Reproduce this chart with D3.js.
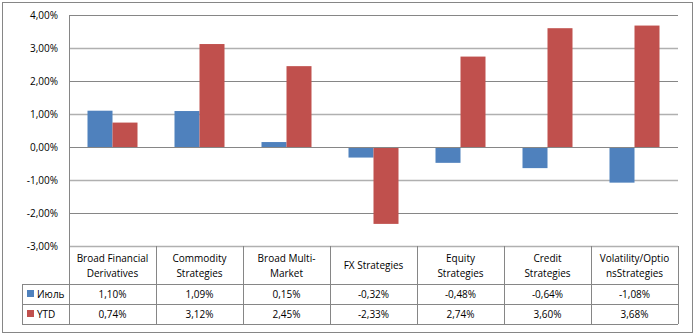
<!DOCTYPE html>
<html>
<head>
<meta charset="utf-8">
<script src="https://cdn.jsdelivr.net/npm/d3@7"></script>
<style>
  body { margin: 0; background: #fff; }
  svg text { font-family: "Open Sans", "Liberation Sans", sans-serif; font-size: 10px; fill: #000; }
</style>
</head>
<body>
<div id="chart"></div>
<script>
// data
const categories = ["Broad Financial Derivatives", "Commodity Strategies", "Broad Multi-Market",
  "FX Strategies", "Equity Strategies", "Credit Strategies", "Volatility/OptionsStrategies"];
const headerLines = [["Broad Financial", "Derivatives"], ["Commodity", "Strategies"], ["Broad Multi-", "Market"],
  ["FX Strategies"], ["Equity", "Strategies"], ["Credit", "Strategies"], ["Volatility/Optio", "nsStrategies"]];
const seriesNames = ["Июль", "YTD"];
const july = [1.10, 1.09, 0.15, -0.32, -0.48, -0.64, -1.08];
const ytd = [0.74, 3.12, 2.45, -2.33, 2.74, 3.60, 3.68];
const yTicks = [-3, -2, -1, 0, 1, 2, 3, 4];
const colors = ["#4f81bd", "#c0504d"];

const w = 695, h = 335;
const plot = {left: 69, right: 678, top: 15, bottom: 246};
const tableRows = [246, 284, 304, 324];
const legendLeft = 22;

// comma decimal, plain hyphen for negatives
const loc = d3.formatLocale({decimal: ",", thousands: " ", grouping: [3], currency: ["", ""], minus: "-"});
const fmt = v => loc.format(".2f")(v) + "%";

const svg = d3.select("#chart").append("svg")
    .attr("width", w)
    .attr("height", h);

// outer frame
svg.append("rect")
    .attr("x", 2.5).attr("y", 2.5)
    .attr("width", 690).attr("height", 330)
    .attr("fill", "#fff")
    .attr("stroke", "#868686");

const x = d3.scaleBand()
    .domain(categories)
    .range([plot.left, plot.right]);

const y = d3.scaleLinear()
    .domain([-3, 4])
    .range([plot.bottom, plot.top]);

const barW = 25;
const xs = d3.scaleBand()
    .domain(seriesNames)
    .range([x.bandwidth() / 2 - barW, x.bandwidth() / 2 + barW]);

// gridlines
svg.append("g")
  .selectAll("line")
  .data(yTicks)
  .join("line")
    .attr("x1", plot.left).attr("x2", plot.right)
    .attr("y1", d => Math.round(y(d)) + 0.5)
    .attr("y2", d => Math.round(y(d)) + 0.5)
    .attr("stroke", d => (d % 2 === 0) ? "#868686" : "#b0b0b0")
    .attr("stroke-width", d => (d % 2 === 0) ? 1 : 1.5);

// y tick labels
const yAxis = d3.axisLeft(y).tickValues(yTicks).tickFormat(fmt).tickSize(0).tickPadding(11);
const ya = svg.append("g")
    .attr("transform", `translate(${plot.left},0)`)
    .call(yAxis);
ya.select(".domain").remove();
ya.selectAll("text").style("font-size", "10px");

// bars
const series = [july, ytd];
series.forEach((vals, si) => {
  svg.append("g")
    .selectAll("rect")
    .data(vals)
    .join("rect")
      .attr("x", (d, i) => x(categories[i]) + xs(seriesNames[si]))
      .attr("y", d => y(Math.max(0, d)))
      .attr("width", xs.bandwidth())
      .attr("height", d => Math.abs(y(d) - y(0)))
      .attr("fill", colors[si]);
});

// zero line on top
svg.append("line")
    .attr("x1", plot.left).attr("x2", plot.right)
    .attr("y1", Math.round(y(0)) + 0.5).attr("y2", Math.round(y(0)) + 0.5)
    .attr("stroke", "#868686");

// vertical axis line
svg.append("line")
    .attr("x1", plot.left + 0.5).attr("x2", plot.left + 0.5)
    .attr("y1", plot.top).attr("y2", tableRows[3])
    .attr("stroke", "#868686");

// data table
const tbl = svg.append("g").attr("stroke", "#868686");
tableRows.slice(1).forEach(r => {
  tbl.append("line")
    .attr("x1", legendLeft).attr("x2", plot.right)
    .attr("y1", r + 0.5).attr("y2", r + 0.5);
});
tbl.append("line")
    .attr("x1", legendLeft + 0.5).attr("x2", legendLeft + 0.5)
    .attr("y1", tableRows[1]).attr("y2", tableRows[3]);
tbl.selectAll("line.col")
  .data(categories)
  .join("line")
    .attr("class", "col")
    .attr("x1", d => Math.round(x(d) + x.bandwidth()) + 0.5)
    .attr("x2", d => Math.round(x(d) + x.bandwidth()) + 0.5)
    .attr("y1", tableRows[0]).attr("y2", tableRows[3]);

// header labels
const hdr = svg.append("g");
headerLines.forEach((lines, i) => {
  const cx = x(categories[i]) + x.bandwidth() / 2;
  const t = hdr.append("text")
      .attr("text-anchor", "middle")
      .attr("x", cx)
      .attr("y", lines.length === 1 ? 269 : 262);
  lines.forEach((l, j) => {
    t.append("tspan").attr("x", cx).attr("dy", j === 0 ? 0 : 15).text(l);
  });
});

// value rows
series.forEach((vals, si) => {
  const rowMid = (tableRows[si + 1] + tableRows[si + 2]) / 2;
  svg.append("g")
    .selectAll("text")
    .data(vals)
    .join("text")
      .attr("text-anchor", "middle")
      .attr("x", (d, i) => x(categories[i]) + x.bandwidth() / 2)
      .attr("y", rowMid + 4)
      .text(fmt);
  // legend key
  svg.append("rect")
    .attr("x", 27).attr("y", rowMid - 4)
    .attr("width", 7).attr("height", 7)
    .attr("fill", colors[si]);
  svg.append("text")
    .attr("x", 37).attr("y", rowMid + 4)
    .text(seriesNames[si]);
});
</script>
</body>
</html>
